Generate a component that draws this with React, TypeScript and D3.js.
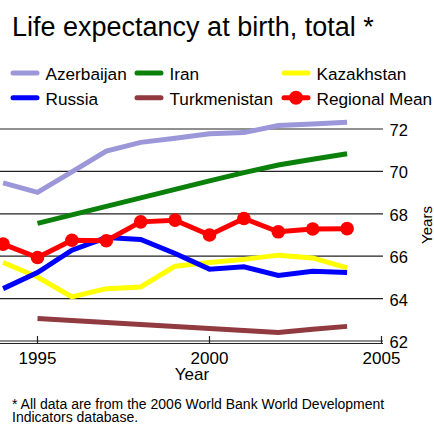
import React from "react";
import * as d3 from "d3";

const years = [1994, 1995, 1996, 1997, 1998, 1999, 2000, 2001, 2002, 2003, 2004];
const azerbaijan = [69.46, 69.01, 69.98, 70.96, 71.37, 71.56, 71.78, 71.83, 72.16, 72.24, 72.32];
const iran = [null, 67.55, 67.95, 68.35, 68.75, 69.15, 69.55, 69.94, 70.3, 70.57, 70.83];
const kazakhstan = [65.7, 65.02, 64.08, 64.47, 64.55, 65.53, 65.7, 65.85, 66.05, 65.92, 65.45];
const russia = [64.47, 65.23, 66.28, 66.88, 66.79, 66.13, 65.39, 65.5, 65.09, 65.29, 65.23];
const turkmenistan = [null, 63.06, 62.97, 62.87, 62.78, 62.68, 62.59, 62.5, 62.4, 62.55, 62.69];
const regionalMean = [66.57, 65.94, 66.75, 66.73, 67.62, 67.7, 67.0, 67.78, 67.15, 67.28, 67.3];
const yTicks = [62, 64, 66, 68, 70, 72];
const xTicks = [1995, 2000, 2005];

const series = [
  { name: "Azerbaijan", values: azerbaijan, color: "#9b97d8" },
  { name: "Iran", values: iran, color: "#0b800b" },
  { name: "Kazakhstan", values: kazakhstan, color: "#ffff00" },
  { name: "Russia", values: russia, color: "#0000ff" },
  { name: "Turkmenistan", values: turkmenistan, color: "#913a3f" },
  { name: "Regional Mean", values: regionalMean, color: "#ff0000", markers: true },
];
const drawOrder = ["Turkmenistan", "Kazakhstan", "Russia", "Azerbaijan", "Iran", "Regional Mean"];

export default function App() {
  const W = 434, H = 424;
  const x = d3.scaleLinear().domain([1995, 2005]).range([37.5, 381.5]);
  const y = d3.scaleLinear().domain([62, 72]).range([341, 129]);
  const plotRight = 383;
  const font = "Liberation Sans, Arial, sans-serif";
  const line = d3
    .line<number | null>()
    .defined((d) => d !== null)
    .x((_, i) => x(years[i]))
    .y((d) => y(d as number));

  const legendCols = [11, 135, 282];
  const legendRows = [73, 97.7];

  return (
    <div style={{ position: "fixed", left: 0, top: 0 }}>
      <svg width={W} height={H} style={{ display: "block" }} fontFamily={font}>
        <rect width={W} height={H} fill="#fff" />
        <text x={12} y={35.5} fontSize={27} fill="#000">Life expectancy at birth, total *</text>
        {series.map((s, i) => {
          const lx = legendCols[i % 3];
          const ly = legendRows[Math.floor(i / 3)];
          return (
            <g key={s.name}>
              <line x1={lx + 2} x2={lx + 26} y1={ly} y2={ly} stroke={s.color} strokeWidth={5} strokeLinecap="round" />
              {s.markers && <circle cx={lx + 14} cy={ly} r={7} fill={s.color} />}
              <text x={lx + 34.5} y={ly + 6.8} fontSize={17.2} fill="#000">{s.name}</text>
            </g>
          );
        })}
        <defs>
          <clipPath id="plotclip">
            <rect x={0} y={100} width={plotRight} height={250} />
          </clipPath>
        </defs>
        {yTicks.filter((t) => t !== 62).map((t) => (
          <line key={t} x1={0} x2={plotRight} y1={y(t)} y2={y(t)} stroke="#222" strokeWidth={1.2} />
        ))}
        <g clipPath="url(#plotclip)">
          {drawOrder.map((n) => {
            const s = series.find((q) => q.name === n)!;
            return (
              <g key={n}>
                <path d={line(s.values) || ""} fill="none" stroke={s.color} strokeWidth={5} strokeLinejoin="miter" />
                {s.markers &&
                  s.values.map((v, i) =>
                    v === null ? null : <circle key={i} cx={x(years[i])} cy={y(v)} r={6.8} fill={s.color} />
                  )}
              </g>
            );
          })}
        </g>
        <line x1={0} x2={plotRight} y1={341} y2={341} stroke="#222" strokeWidth={1.2} />
        <line x1={0} x2={plotRight} y1={343.5} y2={343.5} stroke="#222" strokeWidth={1.2} />
        {xTicks.map((t) => (
          <g key={t}>
            <line x1={x(t)} x2={x(t)} y1={336} y2={343.5} stroke="#222" strokeWidth={1.2} />
            <text x={x(t)} y={363.5} fontSize={17} textAnchor="middle" fill="#000">{t}</text>
          </g>
        ))}
        {yTicks.map((t) => (
          <text key={t} x={389.5} y={y(t) + 7} fontSize={16.5} fill="#000">{t}</text>
        ))}
        <text x={192} y={380} fontSize={17} textAnchor="middle" fill="#000">Year</text>
        <text transform="translate(432,225) rotate(-90)" fontSize={15} textAnchor="middle" fill="#000">Years</text>
        <text x={12} y={408.5} fontSize={14} fill="#000">
          <tspan x={12} y={408.5}>* All data are from the 2006 World Bank World Development</tspan>
          <tspan x={12} y={421.5}>Indicators database.</tspan>
        </text>
      </svg>
    </div>
  );
}
